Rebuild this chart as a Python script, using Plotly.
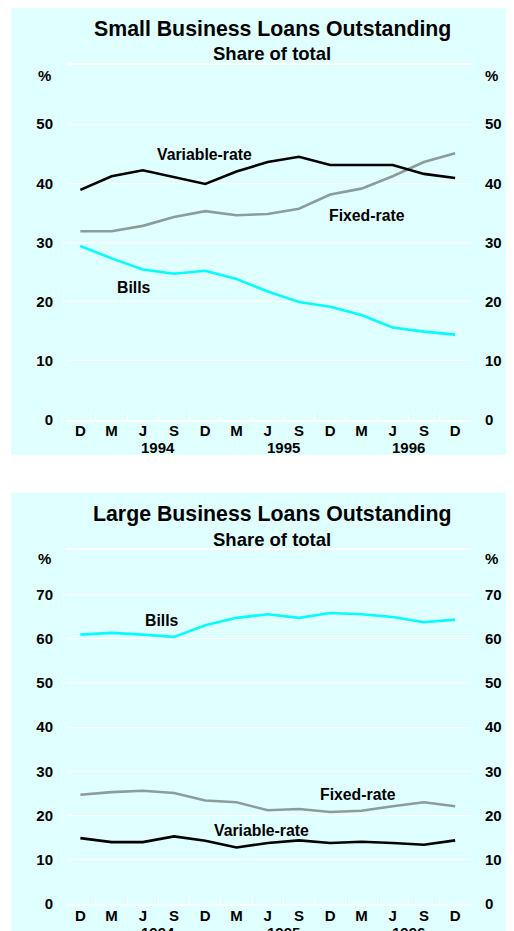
import plotly.graph_objects as go

months = ["D", "M", "J", "S", "D", "M", "J", "S", "D", "M", "J", "S", "D"]
years = ["1994", "1995", "1996"]
year_pos = [2.5, 6.5, 10.5]

small_variable = [38.9, 41.2, 42.2, 41.1, 39.9, 42.0, 43.6, 44.5, 43.1, 43.1, 43.1, 41.6, 40.9]
small_fixed = [31.9, 31.9, 32.8, 34.3, 35.3, 34.6, 34.8, 35.7, 38.1, 39.1, 41.2, 43.6, 45.1]
small_bills = [29.4, 27.3, 25.4, 24.7, 25.2, 23.8, 21.7, 19.9, 19.1, 17.7, 15.6, 14.9, 14.4]

large_bills = [60.9, 61.3, 60.9, 60.4, 63.0, 64.7, 65.5, 64.7, 65.8, 65.5, 64.9, 63.7, 64.3]
large_fixed = [24.7, 25.3, 25.6, 25.1, 23.4, 23.0, 21.2, 21.5, 20.8, 21.1, 22.1, 23.0, 22.1]
large_variable = [14.9, 14.0, 14.0, 15.3, 14.3, 12.8, 13.8, 14.4, 13.8, 14.1, 13.8, 13.4, 14.4]

small_ticks = [0, 10, 20, 30, 40, 50]
large_ticks = [0, 10, 20, 30, 40, 50, 60, 70]

BG = "#E0FFFF"
BLACK = "#000000"
GREY = "#8C9C9C"
CYAN = "#00FFFF"
FONT = "Liberation Sans"

# page body has an 8px margin; the capture is slightly squeezed vertically
OFF = 8
S = 0.990
W, H = 506, 932


def px(xpix):
    return (xpix - OFF) / W


def py(ypix):
    return 1 - (ypix / S - OFF) / H


x = list(range(len(months)))

fig = go.Figure()


def add_panel(idx, series):
    xa = "x" if idx == 0 else "x3"
    ya = "y" if idx == 0 else "y3"
    for vals, col in series:
        fig.add_trace(go.Scatter(x=x, y=vals, mode="lines", xaxis=xa, yaxis=ya,
                                 line=dict(color=col, width=2.6), showlegend=False,
                                 hoverinfo="skip"))


add_panel(0, [(small_fixed, GREY), (small_bills, CYAN), (small_variable, BLACK)])
add_panel(1, [(large_fixed, GREY), (large_bills, CYAN), (large_variable, BLACK)])

xd = [px(66), px(472)]
top_dom = [py(419), py(65)]
bot_dom = [py(902.7), py(549.3)]
xr = [-0.46, 12.54]
tickfont = dict(family=FONT, size=15, color="black", weight="bold")


def xaxis_main(anchor):
    return dict(domain=xd, range=xr, anchor=anchor, tickmode="array", tickvals=x,
                ticktext=months, ticks="", showgrid=False, zeroline=False,
                showline=True, linecolor="white", linewidth=1.5, mirror=True,
                tickfont=tickfont, ticklabelstandoff=-3)


def xaxis_over(overlay, anchor):
    return dict(domain=xd, range=xr, anchor=anchor, overlaying=overlay, side="bottom",
                tickmode="array", tickvals=[i + 0.5 for i in range(12)],
                showticklabels=False, ticks="inside", ticklen=7, tickwidth=1,
                tickcolor="white", showgrid=False, zeroline=False, showline=False)


def yaxis(dom, rng, ticks, anchor, side, overlay=None):
    d = dict(domain=dom, range=rng, anchor=anchor, side=side, tickmode="array",
             tickvals=ticks, ticktext=[str(t) for t in ticks], ticks="",
             showgrid=(overlay is None), gridcolor="white", gridwidth=1,
             zeroline=False, showline=False, tickfont=tickfont, ticklabelstandoff=12)
    if overlay:
        d["overlaying"] = overlay
    return d


fig.update_layout(
    width=W, height=H, margin=dict(l=0, r=0, t=0, b=0),
    paper_bgcolor="white", plot_bgcolor="rgba(0,0,0,0)",
    xaxis=xaxis_main("y"),
    xaxis2=xaxis_over("x", "y"),
    yaxis=yaxis(top_dom, [0, 60], small_ticks, "x", "left"),
    yaxis2=yaxis(top_dom, [0, 60], small_ticks, "x", "right", overlay="y"),
    xaxis3=xaxis_main("y3"),
    xaxis4=xaxis_over("x3", "y3"),
    yaxis3=yaxis(bot_dom, [0, 80], large_ticks, "x3", "left"),
    yaxis4=yaxis(bot_dom, [0, 80], large_ticks, "x3", "right", overlay="y3"),
)

fig.add_trace(go.Scatter(x=[0], y=[0], xaxis="x2", yaxis="y2", mode="none", showlegend=False, hoverinfo="skip"))
fig.add_trace(go.Scatter(x=[0], y=[0], xaxis="x4", yaxis="y4", mode="none", showlegend=False, hoverinfo="skip"))

fig.add_shape(type="rect", xref="paper", yref="paper", x0=px(11), x1=1.0,
              y0=py(454), y1=py(8), fillcolor=BG, line_width=0, layer="below")
fig.add_shape(type="rect", xref="paper", yref="paper", x0=px(11), x1=1.0,
              y0=0, y1=py(491.7), fillcolor=BG, line_width=0, layer="below")


def ann(text, xx, yy, size, xref="paper", yref="paper", xanchor="center"):
    fig.add_annotation(text="<b>" + text + "</b>", x=xx, y=yy, xref=xref, yref=yref,
                       showarrow=False, xanchor=xanchor, yanchor="middle",
                       font=dict(family=FONT, size=size, color="black"))


ann("Small Business Loans Outstanding", px(272), py(29), 21.3)
ann("Share of total", px(272), py(53), 18.5)
ann("Large Business Loans Outstanding", px(272), py(513.5), 21.3)
ann("Share of total", px(272), py(538.5), 18.5)

ann("%", px(53), py(75), 15, xanchor="right")
ann("%", px(483), py(75), 15, xanchor="left")
ann("%", px(53), py(558), 15, xanchor="right")
ann("%", px(483), py(558), 15, xanchor="left")

for yr, pos in zip(years, year_pos):
    ann(yr, pos, py(447), 15, xref="x")
    ann(yr, pos, py(931), 15, xref="x3")

ann("Variable-rate", 3.97, 44.9, 15.8, xref="x", yref="y")
ann("Fixed-rate", 9.18, 34.6, 15.8, xref="x", yref="y")
ann("Bills", 1.73, 22.3, 15.8, xref="x", yref="y")

ann("Bills", 2.62, 64.1, 15.8, xref="x3", yref="y3")
ann("Fixed-rate", 8.88, 24.75, 15.8, xref="x3", yref="y3")
ann("Variable-rate", 5.79, 16.6, 15.8, xref="x3", yref="y3")

fig.write_html("out.html", config={"displayModeBar": False})
